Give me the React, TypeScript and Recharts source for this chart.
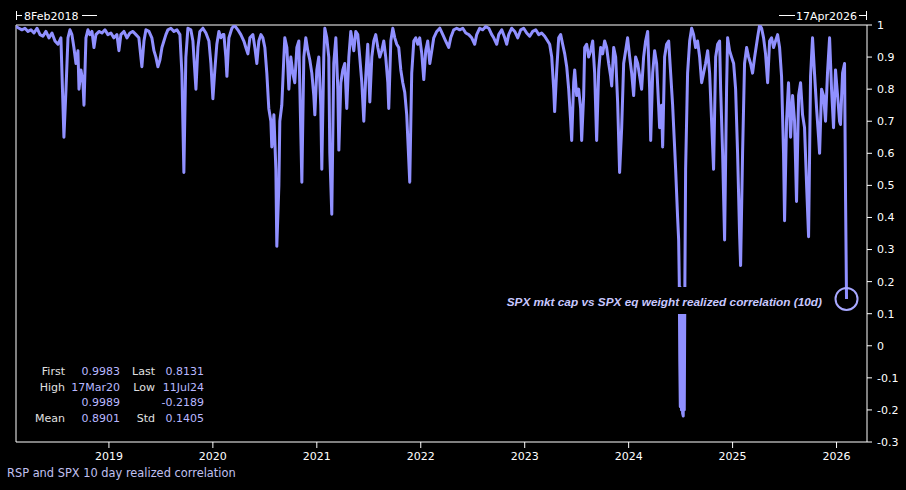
import React from "react";
import {
  LineChart,
  Line,
  XAxis,
  YAxis,
  ReferenceLine,
  ReferenceDot,
} from "recharts";

// [decimal year, 10d realized correlation]
const pts2018: [number, number][] = [
  [2018.106, 0.995], [2018.135, 0.99], [2018.163, 0.985], [2018.192, 0.99], [2018.221, 0.98],
  [2018.25, 0.985], [2018.279, 0.975], [2018.308, 0.99], [2018.337, 0.97], [2018.365, 0.965],
  [2018.394, 0.98], [2018.423, 0.96], [2018.452, 0.975], [2018.481, 0.95], [2018.51, 0.94],
  [2018.538, 0.96], [2018.567, 0.65], [2018.587, 0.8], [2018.606, 0.96], [2018.625, 0.985],
  [2018.644, 0.97], [2018.663, 0.93], [2018.683, 0.88], [2018.702, 0.92], [2018.712, 0.8],
  [2018.731, 0.86], [2018.75, 0.82], [2018.76, 0.75], [2018.779, 0.96], [2018.798, 0.985],
  [2018.817, 0.97], [2018.837, 0.98], [2018.856, 0.93], [2018.875, 0.97], [2018.904, 0.98],
  [2018.933, 0.975], [2018.962, 0.985], [2018.99, 0.97],
];

const pts2019: [number, number][] = [
  [2019.019, 0.975], [2019.048, 0.96], [2019.077, 0.97], [2019.096, 0.92], [2019.115, 0.97],
  [2019.144, 0.98], [2019.173, 0.96], [2019.202, 0.975], [2019.231, 0.98], [2019.26, 0.97],
  [2019.288, 0.96], [2019.317, 0.87], [2019.337, 0.95], [2019.356, 0.985], [2019.385, 0.98],
  [2019.413, 0.96], [2019.433, 0.92], [2019.452, 0.9], [2019.471, 0.87], [2019.49, 0.89],
  [2019.51, 0.93], [2019.529, 0.95], [2019.548, 0.97], [2019.567, 0.985], [2019.596, 0.99],
  [2019.625, 0.98], [2019.654, 0.985], [2019.683, 0.97], [2019.702, 0.85], [2019.721, 0.54],
  [2019.74, 0.9], [2019.76, 0.99], [2019.788, 0.985], [2019.808, 0.95], [2019.837, 0.8],
  [2019.856, 0.93], [2019.875, 0.98], [2019.904, 0.99], [2019.933, 0.975], [2019.962, 0.95],
  [2019.981, 0.88],
];

const pts2020: [number, number][] = [
  [2020.0, 0.77], [2020.019, 0.86], [2020.038, 0.94], [2020.058, 0.98], [2020.077, 0.96],
  [2020.096, 0.97], [2020.106, 0.97], [2020.125, 0.9], [2020.135, 0.84], [2020.154, 0.96],
  [2020.183, 0.99], [2020.208, 0.9989], [2020.24, 0.985], [2020.269, 0.97], [2020.298, 0.95],
  [2020.317, 0.93], [2020.337, 0.91], [2020.356, 0.96], [2020.385, 0.97], [2020.404, 0.93],
  [2020.423, 0.88], [2020.442, 0.95], [2020.462, 0.97], [2020.481, 0.96], [2020.5, 0.93],
  [2020.519, 0.85], [2020.538, 0.74], [2020.558, 0.7], [2020.567, 0.62], [2020.587, 0.72],
  [2020.606, 0.55], [2020.615, 0.31], [2020.635, 0.5], [2020.644, 0.7], [2020.663, 0.75],
  [2020.683, 0.9], [2020.692, 0.96], [2020.712, 0.93], [2020.731, 0.8], [2020.75, 0.9],
  [2020.769, 0.85], [2020.788, 0.82], [2020.808, 0.93], [2020.827, 0.95], [2020.837, 0.8],
  [2020.856, 0.51], [2020.875, 0.9], [2020.894, 0.96], [2020.913, 0.92], [2020.933, 0.89],
  [2020.952, 0.85], [2020.971, 0.78], [2020.981, 0.72],
];

const pts2021: [number, number][] = [
  [2021.0, 0.86], [2021.019, 0.9], [2021.038, 0.75], [2021.048, 0.55], [2021.067, 0.9],
  [2021.077, 0.99], [2021.096, 0.96], [2021.115, 0.9], [2021.125, 0.6], [2021.144, 0.41],
  [2021.163, 0.88], [2021.183, 0.96], [2021.202, 0.8], [2021.212, 0.61], [2021.231, 0.82],
  [2021.25, 0.86], [2021.269, 0.88], [2021.288, 0.74], [2021.308, 0.9], [2021.327, 0.98],
  [2021.346, 0.94], [2021.356, 0.92], [2021.375, 0.98], [2021.394, 0.97], [2021.413, 0.9],
  [2021.433, 0.82], [2021.452, 0.7], [2021.471, 0.84], [2021.49, 0.94], [2021.51, 0.76],
  [2021.529, 0.9], [2021.548, 0.95], [2021.567, 0.97], [2021.587, 0.93], [2021.606, 0.9],
  [2021.625, 0.92], [2021.644, 0.95], [2021.663, 0.9], [2021.683, 0.82], [2021.692, 0.74],
  [2021.712, 0.95], [2021.731, 0.99], [2021.75, 0.96], [2021.769, 0.94], [2021.788, 0.93],
  [2021.808, 0.86], [2021.827, 0.82], [2021.846, 0.79], [2021.865, 0.72], [2021.894, 0.51],
  [2021.913, 0.85], [2021.933, 0.95], [2021.952, 0.96], [2021.971, 0.94], [2021.99, 0.96],
];

const pts2022: [number, number][] = [
  [2022.01, 0.91], [2022.029, 0.83], [2022.048, 0.92], [2022.067, 0.95], [2022.087, 0.88],
  [2022.106, 0.92], [2022.125, 0.96], [2022.154, 0.98], [2022.183, 0.99], [2022.212, 0.97],
  [2022.24, 0.95], [2022.269, 0.93], [2022.288, 0.96], [2022.317, 0.985], [2022.346, 0.99],
  [2022.375, 0.985], [2022.404, 0.99], [2022.433, 0.975], [2022.462, 0.97], [2022.49, 0.96],
  [2022.519, 0.94], [2022.538, 0.97], [2022.567, 0.99], [2022.596, 0.985], [2022.625, 0.995],
  [2022.654, 0.99], [2022.683, 0.97], [2022.702, 0.96], [2022.731, 0.94], [2022.75, 0.97],
  [2022.779, 0.985], [2022.808, 0.96], [2022.827, 0.94], [2022.846, 0.97], [2022.875, 0.99],
  [2022.904, 0.98], [2022.933, 0.96], [2022.962, 0.985], [2022.99, 0.99],
];

const pts2023: [number, number][] = [
  [2023.019, 0.975], [2023.048, 0.965], [2023.077, 0.98], [2023.106, 0.985], [2023.135, 0.97],
  [2023.163, 0.975], [2023.192, 0.965], [2023.221, 0.95], [2023.24, 0.94], [2023.26, 0.9],
  [2023.279, 0.8], [2023.288, 0.73], [2023.308, 0.86], [2023.327, 0.96], [2023.346, 0.97],
  [2023.365, 0.94], [2023.385, 0.91], [2023.404, 0.87], [2023.423, 0.8], [2023.442, 0.7],
  [2023.452, 0.64], [2023.471, 0.82], [2023.481, 0.86], [2023.5, 0.78], [2023.519, 0.8],
  [2023.538, 0.74], [2023.548, 0.64], [2023.567, 0.78], [2023.577, 0.93], [2023.596, 0.94],
  [2023.615, 0.9], [2023.635, 0.92], [2023.654, 0.95], [2023.673, 0.85], [2023.692, 0.64],
  [2023.712, 0.86], [2023.731, 0.93], [2023.75, 0.91], [2023.769, 0.95], [2023.788, 0.93],
  [2023.808, 0.88], [2023.827, 0.84], [2023.837, 0.81], [2023.856, 0.93], [2023.875, 0.9],
  [2023.894, 0.76], [2023.913, 0.54], [2023.933, 0.68], [2023.952, 0.88], [2023.971, 0.92],
  [2023.99, 0.96],
];

const pts2024: [number, number][] = [
  [2024.01, 0.9], [2024.029, 0.85], [2024.048, 0.78], [2024.067, 0.9], [2024.087, 0.88],
  [2024.106, 0.84], [2024.125, 0.8], [2024.144, 0.9], [2024.163, 0.95], [2024.183, 0.98],
  [2024.202, 0.8], [2024.212, 0.64], [2024.231, 0.85], [2024.25, 0.92], [2024.269, 0.88],
  [2024.288, 0.75], [2024.298, 0.68], [2024.317, 0.75], [2024.327, 0.62], [2024.346, 0.9],
  [2024.365, 0.94], [2024.385, 0.95], [2024.404, 0.85], [2024.423, 0.75], [2024.442, 0.62],
  [2024.452, 0.55], [2024.471, 0.4], [2024.481, 0.33], [2024.487, 0.2], [2024.492, -0.05],
  [2024.497, -0.19], [2024.503, 0.18], [2024.508, -0.2], [2024.514, 0.15], [2024.519, -0.21],
  [2024.525, -0.2189], [2024.53, 0.1], [2024.535, -0.2], [2024.541, 0.2], [2024.548, 0.55],
  [2024.567, 0.85], [2024.587, 0.95], [2024.606, 0.99], [2024.625, 0.97], [2024.644, 0.93],
  [2024.663, 0.95], [2024.683, 0.9], [2024.702, 0.82], [2024.721, 0.85], [2024.74, 0.88],
  [2024.76, 0.92], [2024.779, 0.85], [2024.798, 0.7], [2024.817, 0.55], [2024.837, 0.9],
  [2024.856, 0.94], [2024.875, 0.95], [2024.885, 0.8], [2024.904, 0.6], [2024.923, 0.33],
  [2024.942, 0.8], [2024.952, 0.96], [2024.971, 0.92], [2024.99, 0.9],
];

const pts2025: [number, number][] = [
  [2025.01, 0.88], [2025.029, 0.8], [2025.048, 0.6], [2025.067, 0.35], [2025.077, 0.25],
  [2025.096, 0.6], [2025.115, 0.88], [2025.135, 0.93], [2025.154, 0.9], [2025.173, 0.88],
  [2025.192, 0.85], [2025.212, 0.9], [2025.24, 0.96], [2025.26, 1.0], [2025.279, 0.99],
  [2025.298, 0.96], [2025.317, 0.91], [2025.337, 0.82], [2025.356, 0.95], [2025.375, 0.96],
  [2025.394, 0.93], [2025.413, 0.95], [2025.433, 0.97], [2025.452, 0.93], [2025.471, 0.84],
  [2025.49, 0.6], [2025.5, 0.39], [2025.519, 0.7], [2025.538, 0.82], [2025.558, 0.65],
  [2025.577, 0.78], [2025.596, 0.7], [2025.615, 0.45], [2025.635, 0.78], [2025.654, 0.82],
  [2025.673, 0.72], [2025.692, 0.68], [2025.712, 0.5], [2025.731, 0.34], [2025.75, 0.84],
  [2025.769, 0.96], [2025.788, 0.85], [2025.808, 0.74], [2025.827, 0.65], [2025.837, 0.6],
  [2025.856, 0.8], [2025.875, 0.78], [2025.894, 0.7], [2025.913, 0.85], [2025.933, 0.96],
  [2025.952, 0.8], [2025.971, 0.68], [2025.99, 0.86],
];

const pts2026: [number, number][] = [
  [2026.01, 0.78], [2026.029, 0.7], [2026.038, 0.69], [2026.058, 0.85], [2026.077, 0.88],
  [2026.087, 0.45], [2026.096, 0.146],
];

const yearTicks = [2019, 2020, 2021, 2022, 2023, 2024, 2025, 2026];
const corrTicks = [-0.3, -0.2, -0.1, 0, 0.1, 0.2, 0.3, 0.4, 0.5, 0.6, 0.7, 0.8, 0.9, 1];
const xStart = 2018.106; // 8Feb2018
const xEnd = 2026.293; // 17Apr2026

const statRows = [
  ["First", "0.9983", "Last", "0.8131"],
  ["High", "17Mar20", "Low", "11Jul24"],
  ["", "0.9989", "", "-0.2189"],
  ["Mean", "0.8901", "Std", "0.1405"],
];

const LINE = "#9090ff";
const FONT = "'DejaVu Sans', sans-serif";

const data = [
  ...pts2018, ...pts2019, ...pts2020, ...pts2021, ...pts2022,
  ...pts2023, ...pts2024, ...pts2025, ...pts2026,
].map(([t, v]) => ({ t, v }));

const last = data[data.length - 1];

const fmtCorr = (v: number) => {
  const s = Number(v.toFixed(1)).toString();
  return s === "-0" ? "0" : s;
};

export default function App() {
  return (
    <div
      style={{
        position: "fixed",
        left: 0,
        top: 0,
        width: 906,
        height: 490,
        background: "#000",
        fontFamily: FONT,
      }}
    >
      <LineChart
        width={906}
        height={490}
        data={data}
        margin={{ top: 25, right: 0, bottom: 18, left: 16 }}
      >
        <XAxis
          dataKey="t"
          type="number"
          domain={[xStart, xEnd]}
          ticks={yearTicks}
          allowDataOverflow
          tickFormatter={(v: number) => String(Math.round(v))}
          stroke="#fff"
          tickSize={6}
          tickMargin={4}
          height={30}
          tick={{ fill: "#fff", fontSize: 11, fontFamily: FONT }}
        />
        <YAxis
          orientation="right"
          type="number"
          domain={[-0.3, 1]}
          ticks={corrTicks}
          allowDataOverflow
          tickFormatter={fmtCorr}
          stroke="#fff"
          tickSize={5}
          tickMargin={5}
          width={39}
          tick={{ fill: "#fff", fontSize: 11, fontFamily: FONT }}
        />
        <ReferenceLine y={1} stroke="#fff" strokeWidth={1} />
        <ReferenceLine x={xStart} stroke="#fff" strokeWidth={1} />
        <Line
          type="linear"
          dataKey="v"
          stroke={LINE}
          strokeWidth={3}
          strokeLinejoin="round"
          dot={false}
          isAnimationActive={false}
        />
        <ReferenceDot
          x={last.t}
          y={last.v}
          r={11}
          fill="none"
          stroke="#a8a8ff"
          strokeWidth={2}
        />
      </LineChart>

      <svg
        width={906}
        height={490}
        style={{ position: "absolute", left: 0, top: 0, pointerEvents: "none" }}
        fontFamily={FONT}
      >
        {/* date range markers */}
        <g stroke="#fff" strokeWidth={1}>
          <line x1={16.5} y1={11} x2={16.5} y2={20} />
          <line x1={16} y1={15.5} x2={22} y2={15.5} />
          <line x1={82} y1={15.5} x2={97} y2={15.5} />
          <line x1={779} y1={15.5} x2={795} y2={15.5} />
          <line x1={859} y1={15.5} x2={866} y2={15.5} />
          <line x1={866.5} y1={11} x2={866.5} y2={20} />
        </g>
        <text x={24} y={20} fill="#fff" fontSize={11}>8Feb2018</text>
        <text x={857} y={20} fill="#fff" fontSize={11} textAnchor="end">17Apr2026</text>

        {/* annotation */}
        <rect x={503} y={287} width={323} height={27} fill="#000" />
        <text
          x={822}
          y={306}
          fill="#c8c8ff"
          fontSize={11.8}
          fontStyle="italic"
          fontWeight="bold"
          textAnchor="end"
          fontFamily="'Liberation Sans', Arial, sans-serif"
        >
          SPX mkt cap vs SPX eq weight realized correlation (10d)
        </text>

        {/* stats box */}
        {statRows.map((r, i) => (
          <g key={i} fontSize={11}>
            <text x={65} y={375 + i * 15.7} fill="#e0e0e0" textAnchor="end">{r[0]}</text>
            <text x={120} y={375 + i * 15.7} fill="#b8b8ff" textAnchor="end">{r[1]}</text>
            <text x={155} y={375 + i * 15.7} fill="#e0e0e0" textAnchor="end">{r[2]}</text>
            <text x={204} y={375 + i * 15.7} fill="#b8b8ff" textAnchor="end">{r[3]}</text>
          </g>
        ))}

        <text x={7} y={477} fill="#c0c0f0" fontSize={11.4}>
          RSP and SPX 10 day realized correlation
        </text>
      </svg>
    </div>
  );
}
